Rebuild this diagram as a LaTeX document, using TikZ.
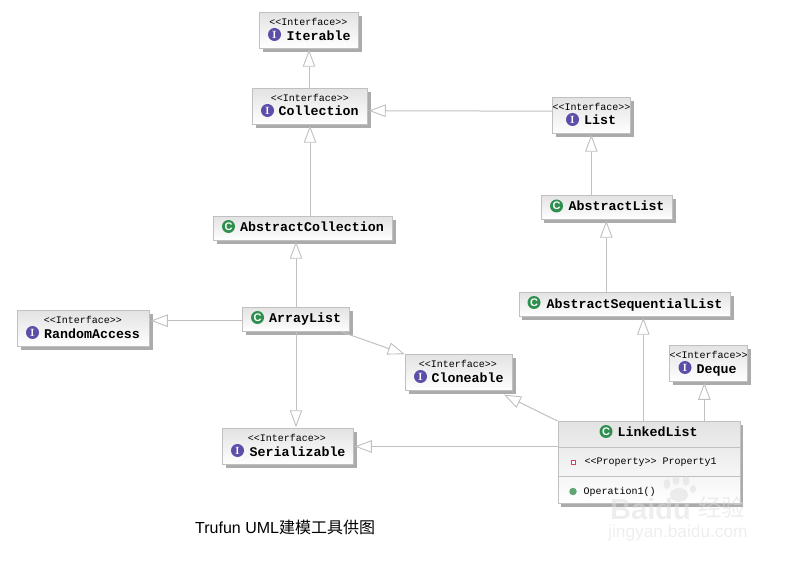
\documentclass[tikz,border=0pt]{standalone}
\usepackage{fontspec}
\setmonofont{Liberation Mono}
\setsansfont{Liberation Sans}
\newfontfamily\cjk{Noto Sans CJK SC}
\usetikzlibrary{arrows.meta,shadows}
\definecolor{edgegrey}{HTML}{C0C0C0}
\definecolor{shadegrey}{HTML}{ABABAB}
\definecolor{facepurple}{HTML}{5B4DA8}
\definecolor{classgreen}{HTML}{2F8F4E}
\definecolor{markred}{HTML}{D8405A}
\definecolor{markgreen}{HTML}{5FA56F}
\definecolor{stampgrey}{HTML}{DDDDDD}
\tikzset{
  umlbox/.style={draw=edgegrey,line width=0.9pt,rectangle,inner sep=0pt,
    top color=black!11,bottom color=white,
    drop shadow={shadow xshift=3.2pt,shadow yshift=-3.2pt,fill=shadegrey,opacity=1}},
  stereo/.style={inner sep=0pt,font=\ttfamily\fontsize{10}{10}\selectfont},
  boxname/.style={inner sep=0pt,anchor=west,text height=10pt,text depth=0pt,
    font=\ttfamily\bfseries\fontsize{13.3}{13.3}\selectfont},
  memb/.style={inner sep=0pt,anchor=west,font=\ttfamily\fontsize{10}{10}\selectfont},
  iconI/.style={circle,inner sep=0pt,minimum size=13pt,fill=facepurple,text=white,
    font=\rmfamily\bfseries\fontsize{10.5}{10.5}\selectfont},
  iconC/.style={iconI,fill=classgreen,font=\sffamily\bfseries\fontsize{11}{11}\selectfont},
  gen/.style={draw=edgegrey,line width=1pt,shorten >=0.8pt,
    -{Triangle[open,fill=white,length=17pt,width=12.5pt,line width=0.9pt]}},
  stamp/.style={inner sep=0pt,text=stampgrey,opacity=0.5}
}
\begin{document}
\begin{tikzpicture}[x=1pt,y=-1pt]
      \useasboundingbox (0,0) rectangle (790,561);
      % boxes
      \draw
        (309,30.5) node[umlbox,minimum width=99pt,minimum height=36pt] (Iterable){}
        (310,106.5) node[umlbox,minimum width=115pt,minimum height=36pt] (Collection){}
        (303,228.5) node[umlbox,minimum width=179pt,minimum height=24pt] (AbstractCollection){}
        (296,319.5) node[umlbox,minimum width=107pt,minimum height=24pt] (ArrayList){}
        (83.5,328.5) node[umlbox,minimum width=132pt,minimum height=36pt] (RandomAccess){}
        (459,372.5) node[umlbox,minimum width=107pt,minimum height=36pt] (Cloneable){}
        (288,446.5) node[umlbox,minimum width=131pt,minimum height=36pt] (Serializable){}
        (591.3,115.5) node[umlbox,minimum width=78pt,minimum height=36pt] (List){}
        (607,207.5) node[umlbox,minimum width=131.5pt,minimum height=24pt] (AbstractList){}
        (624.8,304.5) node[umlbox,minimum width=211.5pt,minimum height=24pt] (AbstractSequentialList){}
        (708.5,363.5) node[umlbox,minimum width=78pt,minimum height=36pt] (Deque){}
        (649,462.5) node[umlbox,minimum width=182pt,minimum height=82pt] (LinkedList){};
      % stereotypes
      \draw
        (308.5,22) node[stereo] (IterableTag){<{}<Interface>{}>}
        (310,98) node[stereo] (CollectionTag){<{}<Interface>{}>}
        (83,319.5) node[stereo] (RandomAccessTag){<{}<Interface>{}>}
        (458,364) node[stereo] (CloneableTag){<{}<Interface>{}>}
        (287,438) node[stereo] (SerializableTag){<{}<Interface>{}>}
        (591.5,106.5) node[stereo] (ListTag){<{}<Interface>{}>}
        (708.5,355) node[stereo] (DequeTag){<{}<Interface>{}>};
      % names
      \draw
        (286.5,35.5) node[boxname] (IterableName){Iterable}
        (278.5,111) node[boxname] (CollectionName){Collection}
        (240,227) node[boxname] (AbstractCollectionName){AbstractCollection}
        (269,317.7) node[boxname] (ArrayListName){ArrayList}
        (44,333.3) node[boxname] (RandomAccessName){RandomAccess}
        (431.5,377) node[boxname] (CloneableName){Cloneable}
        (249.5,451) node[boxname] (SerializableName){Serializable}
        (584,120) node[boxname] (ListName){List}
        (568.5,206) node[boxname] (AbstractListName){AbstractList}
        (546.5,303.3) node[boxname] (AbstractSequentialListName){AbstractSequentialList}
        (696.5,368.5) node[boxname] (DequeName){Deque}
        (617.5,431.7) node[boxname] (LinkedListName){LinkedList};
      % icons
      \draw
        (274.5,34.5) node[iconI] (IterableIcon){I}
        (267.5,110.5) node[iconI] (CollectionIcon){I}
        (228.5,226.5) node[iconC] (AbstractCollectionIcon){C}
        (257.5,317.5) node[iconC] (ArrayListIcon){C}
        (32.5,332.5) node[iconI] (RandomAccessIcon){I}
        (420.5,376.5) node[iconI] (CloneableIcon){I}
        (237.5,450.5) node[iconI] (SerializableIcon){I}
        (572.5,119.5) node[iconI] (ListIcon){I}
        (556.5,206) node[iconC] (AbstractListIcon){C}
        (534,302.5) node[iconC] (AbstractSequentialListIcon){C}
        (685,367.5) node[iconI] (DequeIcon){I}
        (606,431.5) node[iconC] (LinkedListIcon){C};
      % LinkedList compartments
      \coordinate (firstRule) at (649,447.5);
      \coordinate (secondRule) at (649,476.5);
      \draw[edgegrey,line width=0.8pt] (LinkedList.west |- firstRule) to (LinkedList.east |- firstRule);
      \draw[edgegrey,line width=0.8pt] (LinkedList.west |- secondRule) to (LinkedList.east |- secondRule);
      \draw
        (573.5,462.5) node[rectangle,draw=markred,fill=white,line width=1pt,minimum size=4pt,inner sep=0pt] (PropertyMark){}
        (584.5,462.5) node[memb] (PropertyText){<{}<Property>{}> Property1}
        (573,491.5) node[circle,fill=markgreen,minimum size=7.5pt,inner sep=0pt] (OperationMark){}
        (583.5,491.5) node[memb] (OperationText){Operation1()};
      % caption
      \draw
        (195,527) node[inner sep=0pt,anchor=west,font=\sffamily\fontsize{16}{16}\selectfont] (Caption){Trufun UML{\cjk 建模工具供图}};
      \begin{scope}[gen]
        \draw (Collection.north -| Iterable.south) to (Iterable.south);
        \draw (AbstractCollection.north -| Collection.south) to (Collection.south);
        \draw (ArrayList.north) to (AbstractCollection.south -| ArrayList.north);
        \draw ([yshift=-1.2pt]ArrayList.west) to ([yshift=7.8pt]RandomAccess.east);
        \draw (ArrayList.south) to (Serializable.north -| ArrayList.south);
        \draw ([xshift=45.7pt]ArrayList.south) to ([xshift=-53.5pt,yshift=18pt]Cloneable.center);
        \draw ([yshift=4.3pt]List.west) to ([yshift=-4.2pt]Collection.east);
        \draw (AbstractList.north -| List.south) to (List.south);
        \draw ([xshift=-18.5pt]AbstractSequentialList.north) to ([xshift=-0.7pt]AbstractList.south);
        \draw ([xshift=-5.7pt]LinkedList.north) to ([xshift=18.5pt]AbstractSequentialList.south);
        \draw ([xshift=55.3pt]LinkedList.north) to ([xshift=-4.2pt]Deque.south);
        \draw (LinkedList.north west) to ([xshift=44.3pt,yshift=-21.8pt]Cloneable.center);
        \draw ([yshift=16pt]LinkedList.west) to (Serializable.east);
      \end{scope}
      % host stamp
      \draw
        (610,509) node[stamp,anchor=west,font=\sffamily\bfseries\fontsize{29}{29}\selectfont] (StampBaidu){Baidu}
        (698,507) node[stamp,anchor=west,font=\cjk\fontsize{23.5}{23.5}\selectfont] (StampJingyan){经验}
        (608,533) node[stamp,anchor=west,font=\sffamily\fontsize{17.3}{17.3}\selectfont] (StampSite){jingyan.baidu.com};
      \fill[stampgrey,opacity=0.5]
        (679,495) ellipse (9pt and 7pt)
        (667,484) ellipse (3.5pt and 5pt)
        (676,480) ellipse (3.5pt and 5pt)
        (686,481) ellipse (3.5pt and 5pt)
        (693,489) ellipse (3pt and 4pt);
    \end{tikzpicture}
\end{document}
